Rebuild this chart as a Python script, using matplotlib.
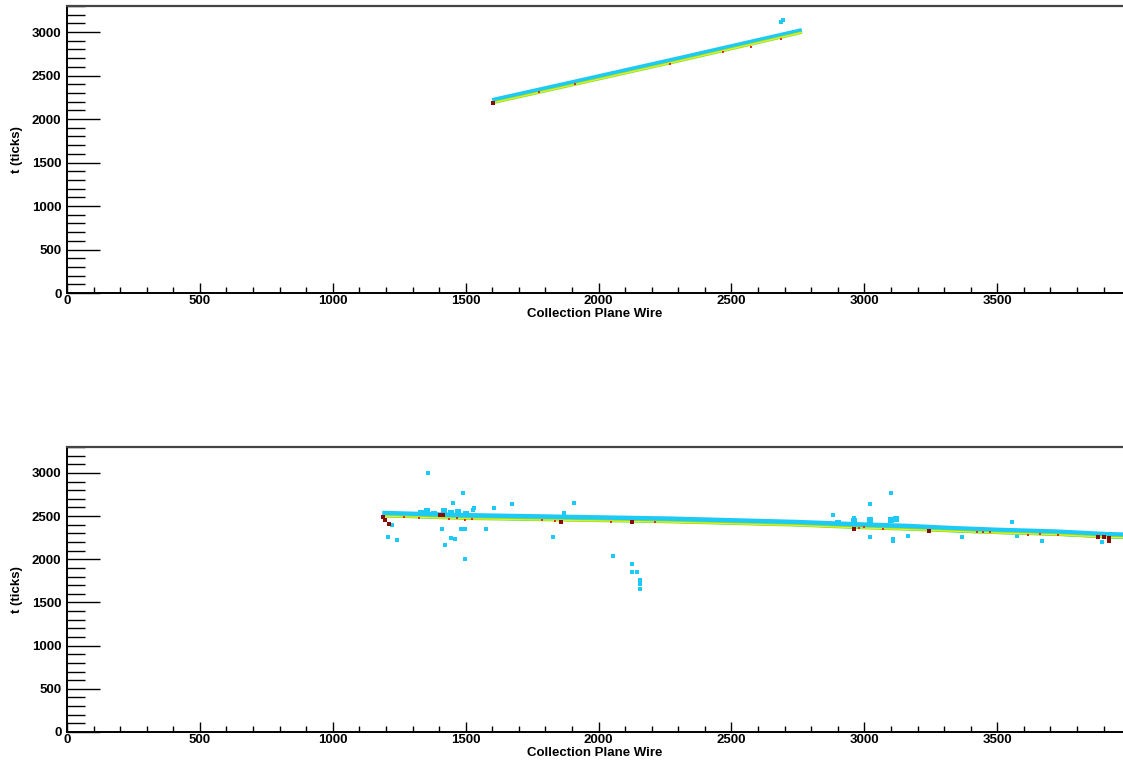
import numpy as np
import matplotlib.pyplot as plt
from matplotlib.ticker import MultipleLocator

plt.rcParams['font.family'] = ['Liberation Sans', 'DejaVu Sans']
plt.rcParams['font.weight'] = 'bold'

# ROOT-like palette
CYAN = '#1ccaf5'
GREEN = '#7ee04a'
YELLOW = '#f0ee10'
RED = '#e0301a'
DARK = '#8a0a0a'

# top event: collection plane track
top_wire = [1600, 1900, 2300, 2765]
top_halo_tick = [2215, 2420, 2695, 3020]
top_core_tick = [2185, 2390, 2665, 2995]
top_red_wire = [1774, 1911, 2267, 2467, 2573, 2686]
top_red_tick = [2311, 2399, 2630, 2772, 2834, 2926]
top_dark_wire = [1601]
top_dark_tick = [2188]
top_stray_wire = [2685, 2692]
top_stray_tick = [3115, 3135]

# bottom event
bot_wire = [1186, 1490, 2261, 2749, 2960, 3161, 3330, 3499, 3720, 3911, 3975]
bot_core_tick = [2500, 2470, 2431, 2392, 2365, 2345, 2325, 2305, 2285, 2255, 2250]
bot_halo_tick = [2525, 2500, 2460, 2420, 2395, 2375, 2350, 2330, 2310, 2280, 2275]
bot_red_wire = [1267, 1324, 1436, 1467, 1499, 1523, 1786, 1836, 2048, 2211,
                2980, 2998, 3071, 3423, 3448, 3473, 3617, 3661, 3729]
bot_red_tick = [2490, 2478, 2463, 2478, 2459, 2463, 2451, 2439, 2431, 2431,
                2360, 2369, 2353, 2314, 2314, 2314, 2282, 2290, 2282]
bot_dark_wire = [1190, 1198, 1211, 1405, 1415, 1859, 2124, 2961, 3242, 3880, 3900, 3920, 3922]
bot_dark_tick = [2495, 2460, 2410, 2518, 2518, 2431, 2431, 2353, 2333, 2255, 2255, 2250, 2215]
bot_blob_wire = [1330, 1355, 1380, 1420, 1445, 1470, 1500, 2900, 2960, 3020, 3100, 3120]
bot_blob_tick = [2540, 2555, 2530, 2560, 2540, 2545, 2530, 2420, 2440, 2450, 2450, 2470]
bot_stray_wire = [1359, 1489, 1452, 1676, 1907, 1528, 1530, 1605, 1871, 1409, 1576,
                  1481, 1496, 1206, 1242, 1445, 1460, 1424, 1827, 1496, 2056,
                  2127, 2146, 2124, 2155, 2155, 2155, 1222,
                  3099, 3020, 2883, 2961, 3017, 3116, 3020, 3108, 3108, 3165,
                  3366, 3554, 3670, 3895, 3573]
bot_stray_tick = [3004, 2765, 2647, 2635, 2647, 2565, 2590, 2590, 2541, 2345, 2345,
                  2350, 2350, 2255, 2224, 2250, 2240, 2170, 2255, 2000, 2043,
                  1941, 1855, 1850, 1760, 1710, 1660, 2392,
                  2772, 2635, 2510, 2480, 2470, 2450, 2255, 2240, 2215, 2267,
                  2255, 2431, 2216, 2204, 2270]

W, H = 1123, 762
fig = plt.figure(figsize=(W / 100, H / 100), dpi=100)


def style(ax):
    ax.set_xlim(0, 3973)
    ax.set_ylim(0, 3300)
    ax.xaxis.set_major_locator(MultipleLocator(500))
    ax.xaxis.set_minor_locator(MultipleLocator(100))
    ax.yaxis.set_major_locator(MultipleLocator(500))
    ax.yaxis.set_minor_locator(MultipleLocator(100))
    ax.tick_params(axis='x', which='major', direction='in', length=7.5, width=1.0,
                   labelsize=9.5, pad=1.5, top=False)
    ax.tick_params(axis='x', which='minor', direction='in', length=4.5, width=1.0, top=False)
    ax.tick_params(axis='y', which='major', direction='in', length=24, width=1.0,
                   labelsize=9.5, pad=4, right=False)
    ax.tick_params(axis='y', which='minor', direction='in', length=13, width=1.0, right=False)
    ax.spines['right'].set_visible(False)
    ax.spines['top'].set_color('#444444')
    ax.spines['top'].set_linewidth(1.6)
    ax.spines['left'].set_linewidth(1.4)
    ax.spines['bottom'].set_linewidth(1.4)
    ax.set_xlabel('Collection Plane Wire', fontsize=9.5, fontweight='bold', labelpad=1)
    ax.set_ylabel('t (ticks)', fontsize=9.5, fontweight='bold', labelpad=6)
    for lab in ax.get_xticklabels() + ax.get_yticklabels():
        lab.set_fontweight('bold')


ax1 = fig.add_axes([67 / W, 1 - 293 / H, 1 - 67 / W, 287 / H])
ax2 = fig.add_axes([67 / W, 1 - 732 / H, 1 - 67 / W, 285 / H])

# top panel
ax1.plot(top_wire, top_halo_tick, color=CYAN, lw=3.4, solid_capstyle='butt')
ax1.plot(top_wire, top_core_tick, color=GREEN, lw=2.0, solid_capstyle='butt')
ax1.plot(top_wire, top_core_tick, color=YELLOW, lw=0.9, solid_capstyle='butt')
ax1.scatter(top_red_wire, top_red_tick, marker='s', s=4, color=RED, linewidths=0, zorder=3)
ax1.scatter(top_dark_wire, top_dark_tick, marker='s', s=8, color=DARK, linewidths=0, zorder=3)
ax1.scatter(top_stray_wire, top_stray_tick, marker='s', s=5, color=CYAN, linewidths=0)
style(ax1)

# bottom panel
ax2.plot(bot_wire, bot_halo_tick, color=CYAN, lw=4.6, solid_capstyle='butt')
ax2.plot(bot_wire, bot_core_tick, color=GREEN, lw=1.8, solid_capstyle='butt')
ax2.plot(bot_wire, bot_core_tick, color=YELLOW, lw=0.8, solid_capstyle='butt')
ax2.scatter(bot_blob_wire, bot_blob_tick, marker='s', s=16, color=CYAN, linewidths=0)
ax2.scatter(bot_stray_wire, bot_stray_tick, marker='s', s=6.5, color=CYAN, linewidths=0)
ax2.scatter(bot_red_wire, bot_red_tick, marker='s', s=4, color=RED, linewidths=0, zorder=3)
ax2.scatter(bot_dark_wire, bot_dark_tick, marker='s', s=5, color=DARK, linewidths=0, zorder=3)
style(ax2)

fig.savefig('out.png', dpi=100)
